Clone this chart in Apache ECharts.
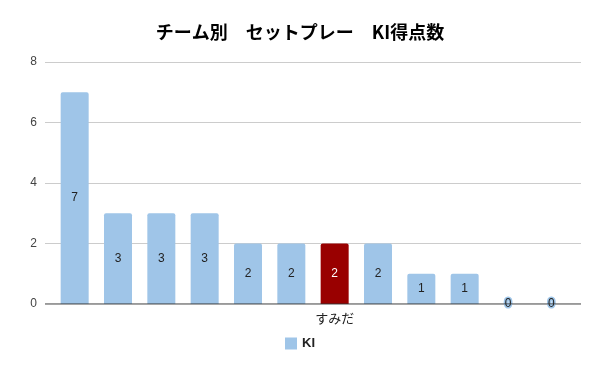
<!DOCTYPE html>
<html><head><meta charset="utf-8">
<script src="https://cdn.jsdelivr.net/npm/echarts@6/dist/echarts.min.js"></script>
<style>html,body{margin:0;padding:0;background:#fff}#c{width:600px;height:371px}</style>
</head><body><div id="c"></div>
<script>
const titleText = 'チーム別　セットプレー　KI得点数';
const seriesName = 'KI';
const categories = ['', '', '', '', '', '', 'すみだ', '', '', '', '', ''];
const values = [7, 3, 3, 3, 2, 2, 2, 2, 1, 1, 0, 0];
const highlightIndex = 6;
const yTicks = [0, 2, 4, 6, 8];

const BLUE = '#9fc5e8', RED = '#990000';
const FONT = '"Liberation Sans", Arial, "Noto Sans CJK JP", sans-serif';

const data = values.map((v, i) => {
  const item = { value: v };
  if (i === highlightIndex) {
    item.itemStyle = { color: RED };
    item.label = { color: '#ffffff' };
  } else if (v === 0) {
    item.label = { textBorderColor: BLUE, textBorderWidth: 3 };
  }
  return item;
});

const chart = echarts.init(document.getElementById('c'), null, { renderer: 'canvas' });
chart.setOption({
  animation: false,
  title: {
    text: titleText, left: 'center', top: 18,
    textStyle: { fontFamily: '"Noto Sans CJK JP", sans-serif', fontWeight: 'bold', fontSize: 18, color: '#000' }
  },
  legend: {
    bottom: 16, left: 'center', itemWidth: 12, itemHeight: 12, icon: 'rect',
    textStyle: { fontFamily: FONT, fontSize: 13, fontWeight: 'bold', color: '#222' },
    data: [seriesName]
  },
  grid: [
    { left: 45, right: 19, top: 62, bottom: 67 },
    { left: 53, right: 27, top: 62, bottom: 67 }
  ],
  xAxis: [
    { gridIndex: 0, type: 'value', min: 0, max: 1, show: false },
    {
      gridIndex: 1, type: 'category', data: categories,
      axisLine: { show: false }, axisTick: { show: false },
      axisLabel: { interval: 0, margin: 8, fontFamily: '"Noto Sans CJK JP", sans-serif', fontSize: 13, color: '#222' }
    }
  ],
  yAxis: [
    {
      gridIndex: 0, type: 'value', min: yTicks[0], max: yTicks[yTicks.length - 1], interval: yTicks[1] - yTicks[0],
      axisLine: { show: false }, axisTick: { show: false },
      axisLabel: { margin: 8, fontFamily: FONT, fontSize: 12, color: '#444' },
      splitLine: { lineStyle: { color: '#cccccc', width: 1 } }
    },
    { gridIndex: 1, type: 'value', min: yTicks[0], max: yTicks[yTicks.length - 1], show: false }
  ],
  series: [
    {
      type: 'line', xAxisIndex: 0, yAxisIndex: 0, data: [[0, 0], [1, 0]],
      symbol: 'none', silent: true, lineStyle: { color: '#333333', width: 1 }, z: 5, legendHoverLink: false
    },
    {
      name: seriesName, type: 'bar', xAxisIndex: 1, yAxisIndex: 1, data: data,
      barWidth: 28, itemStyle: { color: BLUE, borderRadius: [2, 2, 0, 0] },
      label: { show: true, position: 'inside', fontFamily: FONT, fontSize: 12, color: '#222' },
      z: 3
    }
  ]
});
</script></body></html>
